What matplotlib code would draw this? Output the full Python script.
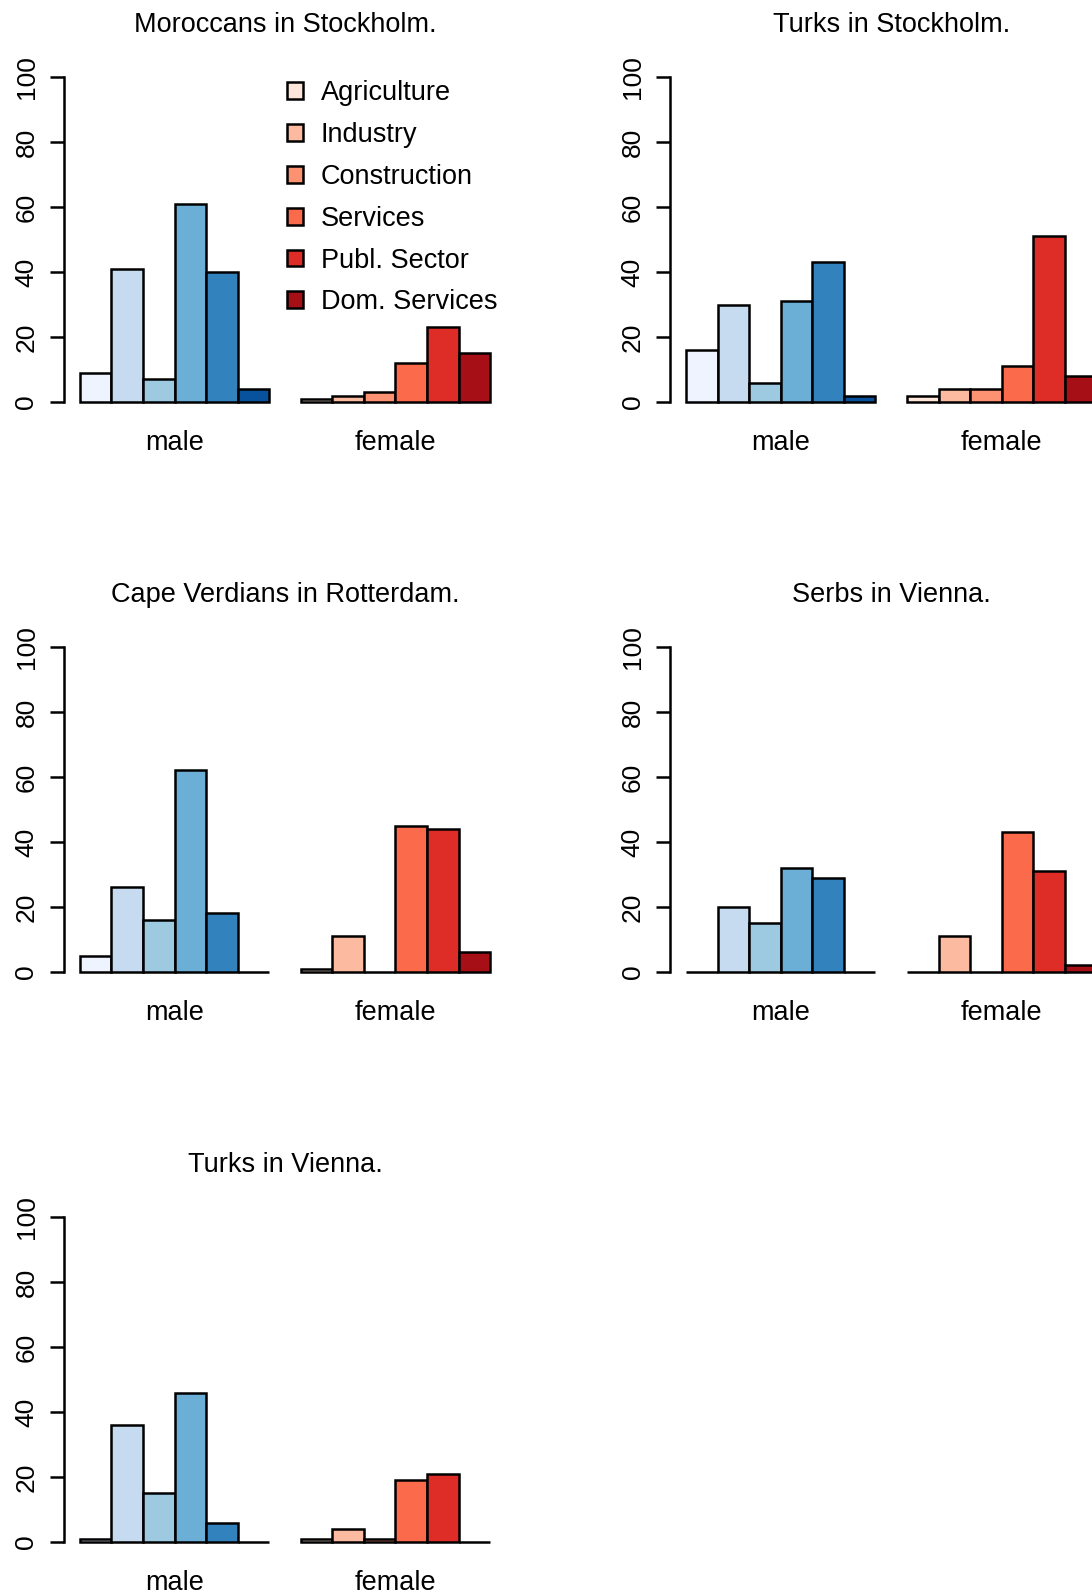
import matplotlib
matplotlib.use("Agg")
import matplotlib.pyplot as plt
from matplotlib.patches import Patch

plt.rcParams['font.family'] = ['Liberation Sans', 'DejaVu Sans']

# sectors of employment and the two sexes shown per panel
sectors = ["Agriculture", "Industry", "Construction", "Services",
           "Publ. Sector", "Dom. Services"]
sexes = ["male", "female"]

# ColorBrewer Blues / Reds, 6 classes
blues = ["#EFF3FF", "#C6DBEF", "#9ECAE1", "#6BAED6", "#3182BD", "#08519C"]
reds = ["#FEE5D9", "#FCBBA1", "#FC9272", "#FB6A4A", "#DE2D26", "#A50F15"]

titles = ["Moroccans in Stockholm.", "Turks in Stockholm.",
          "Cape Verdians in Rotterdam.", "Serbs in Vienna.",
          "Turks in Vienna."]

# share (%) per sector
moroccans_sthlm_male = [9, 41, 7, 61, 40, 4]
moroccans_sthlm_female = [1, 2, 3, 12, 23, 15]
turks_sthlm_male = [16, 30, 6, 31, 43, 2]
turks_sthlm_female = [2, 4, 4, 11, 51, 8]
capeverd_rdam_male = [5, 26, 16, 62, 18, 0]
capeverd_rdam_female = [1, 11, 0, 45, 44, 6]
serbs_vienna_male = [0, 20, 15, 32, 29, 0]
serbs_vienna_female = [0, 11, 0, 43, 31, 2]
turks_vienna_male = [1, 36, 15, 46, 6, 0]
turks_vienna_female = [1, 4, 1, 19, 21, 0]

panels = [
    (moroccans_sthlm_male, moroccans_sthlm_female),
    (turks_sthlm_male, turks_sthlm_female),
    (capeverd_rdam_male, capeverd_rdam_female),
    (serbs_vienna_male, serbs_vienna_female),
    (turks_vienna_male, turks_vienna_female),
]

W, H = 1092, 1596
FS = 19.5
LW = 1.8

fig = plt.figure(figsize=(W / 100, H / 100), dpi=100)


def panel_axes(row, col):
    # pixel layout of one barplot panel
    left = 63.5 + col * 606.2
    top = 64 + row * 570
    return fig.add_axes([left / W, 1 - (top + 351) / H, 443 / W, 351 / H])


for k, (title, (male, female)) in enumerate(zip(titles, panels)):
    ax = panel_axes(k // 2, k % 2)
    n = len(sectors)
    # two groups of 6 bars, one bar-width gap between them
    x_male = [i + 1.5 for i in range(n)]
    x_female = [i + n + 2.5 for i in range(n)]
    ax.bar(x_male, male, width=1, color=blues, edgecolor="black", linewidth=LW)
    ax.bar(x_female, female, width=1, color=reds, edgecolor="black", linewidth=LW)

    ax.set_xlim(0.48, 2 * n + 2.52)
    ax.set_ylim(-4, 104)

    for s in ["top", "right", "bottom"]:
        ax.spines[s].set_visible(False)
    ax.spines["left"].set_bounds(0, 100)
    ax.spines["left"].set_linewidth(LW)

    ax.set_xticks([])
    ax.set_yticks(range(0, 101, 20))
    ax.tick_params(axis="y", length=10, width=LW, pad=8, labelsize=19)
    plt.setp(ax.get_yticklabels(), rotation=90, va="center")

    centers = [sum(x_male) / n, sum(x_female) / n]
    for cx, lab in zip(centers, sexes):
        ax.annotate(lab, xy=(cx, 0), xycoords=("data", "axes fraction"),
                    xytext=(0, -28), textcoords="offset pixels",
                    ha="center", va="center", fontsize=FS)

    ax.annotate(title, xy=(0.5, 1), xycoords="axes fraction",
                xytext=(0, 38.5), textcoords="offset pixels",
                ha="center", va="center", fontsize=FS)

    if k == 0:
        handles = [Patch(facecolor=c, edgecolor="black", linewidth=LW) for c in reds]
        ax.legend(handles, sectors, loc="upper left",
                  bbox_to_anchor=(0.5045, 0.954), frameon=False, fontsize=FS,
                  handlelength=0.58, handleheight=0.58, handletextpad=0.66,
                  labelspacing=0.585, borderpad=0, borderaxespad=0)

fig.savefig("out.png", dpi=100)
